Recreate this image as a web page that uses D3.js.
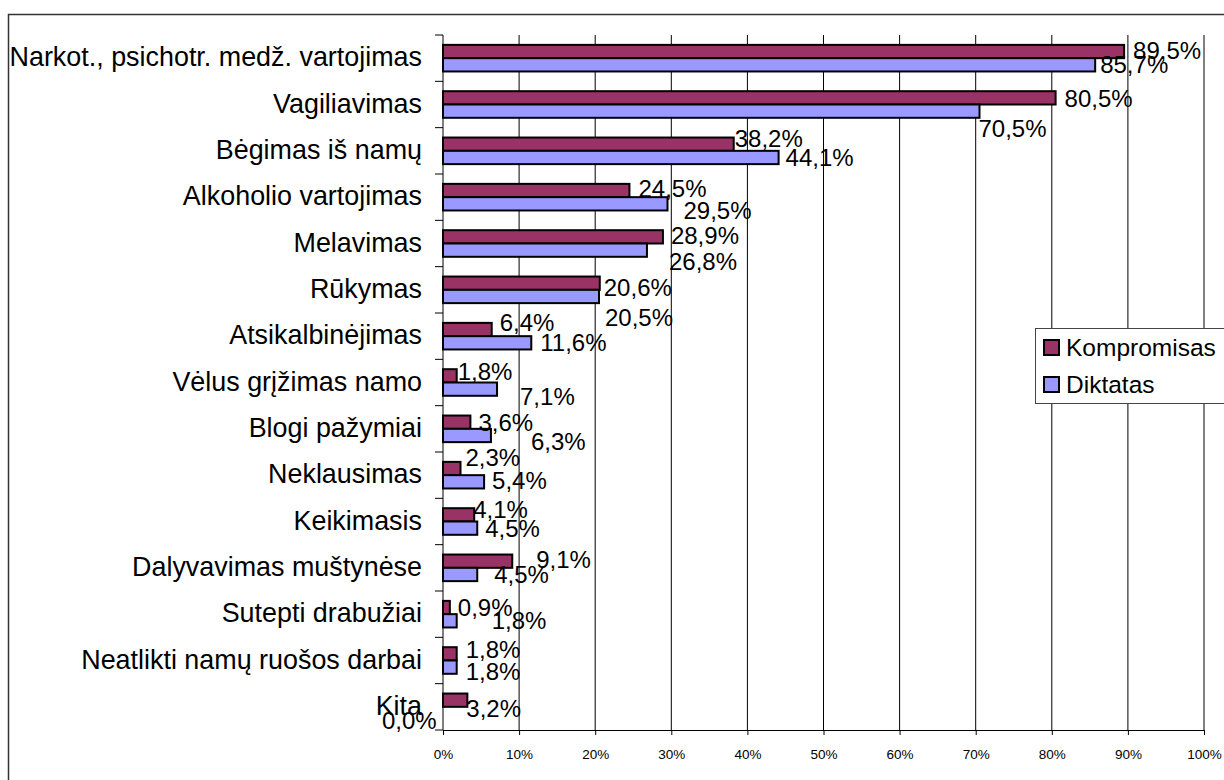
<!DOCTYPE html>
<html>
<head>
<meta charset="utf-8">
<script src="https://cdn.jsdelivr.net/npm/d3@7"></script>
<style>
  body { margin: 0; background: #fff; }
  svg { display: block; font-family: "Liberation Sans", Arial, sans-serif; }
</style>
</head>
<body>
<svg id="chart" width="1224" height="780"></svg>
<script>
const categories = [
  "Narkot., psichotr. medž. vartojimas",
  "Vagiliavimas",
  "Bėgimas iš namų",
  "Alkoholio vartojimas",
  "Melavimas",
  "Rūkymas",
  "Atsikalbinėjimas",
  "Vėlus grįžimas namo",
  "Blogi pažymiai",
  "Neklausimas",
  "Keikimasis",
  "Dalyvavimas muštynėse",
  "Sutepti drabužiai",
  "Neatlikti namų ruošos darbai",
  "Kita"
];
const kompromisas = [89.5, 80.5, 38.2, 24.5, 28.9, 20.6, 6.4, 1.8, 3.6, 2.3, 4.1, 9.1, 0.9, 1.8, 3.2];
const diktatas = [85.7, 70.5, 44.1, 29.5, 26.8, 20.5, 11.6, 7.1, 6.3, 5.4, 4.5, 4.5, 1.8, 1.8, 0.0];
const xTicks = [0, 10, 20, 30, 40, 50, 60, 70, 80, 90, 100];

// hand-placed data label offsets (dx from bar end to text left, dy from bar centre)
const nudgeK = [[9,-1],[9,1],[1,-6],[9,-2],[8,-1],[4,4],[8,-7],[1,-4],[8,0],[5,-11],[-1,-5],[24,-2],[8,0],[9,-4],[-1,8]];
const nudgeD = [[5,0],[-1,17],[7,0],[16,7],[22,11],[6,21],[9,0],[23,7],[40,6],[8,-1],[8,0],[17,0],[35,0],[9,4],[-61,7]];

const series = [
  { name: "Kompromisas", values: kompromisas, color: "#993366", nudge: nudgeK },
  { name: "Diktatas", values: diktatas, color: "#9999FF", nudge: nudgeD }
];

const svg = d3.select("#chart");
const plot = { left: 443, right: 1204, top: 35, bottom: 730 };
const labelSize = 24;
const catSize = 26.9;

const x = d3.scaleLinear().domain([0, 100]).range([plot.left, plot.right]);
const y = d3.scaleBand().domain(categories).range([plot.top, plot.bottom]).padding(0);
const sub = d3.scaleBand().domain(series.map(s => s.name)).range([0, y.step()])
  .paddingInner(0).paddingOuter(0.742);

const fmt = v => v.toFixed(1).replace(".", ",") + "%";

// outer chart border
svg.append("rect")
  .attr("x", 8.5).attr("y", 14.5)
  .attr("width", 1240).attr("height", 800)
  .attr("fill", "#fff").attr("stroke", "#333").attr("stroke-width", 1.5);

// gridlines
svg.append("g")
  .selectAll("line")
  .data(xTicks.slice(1))
  .join("line")
  .attr("x1", d => x(d)).attr("x2", d => x(d))
  .attr("y1", plot.top).attr("y2", plot.bottom)
  .attr("stroke", "#000").attr("stroke-width", 1);

// bars
series.forEach(s => {
  svg.append("g")
    .selectAll("rect")
    .data(categories.map((c, i) => ({ c, v: s.values[i] })))
    .join("rect")
    .attr("x", x(0))
    .attr("y", d => y(d.c) + sub(s.name))
    .attr("width", d => x(d.v) - x(0))
    .attr("height", sub.bandwidth())
    .attr("fill", s.color)
    .attr("stroke", "#000")
    .attr("stroke-width", 2)
    .attr("display", d => d.v > 0 ? null : "none");
});

// x axis
const xAxis = svg.append("g")
  .attr("transform", `translate(0,${plot.bottom})`)
  .call(d3.axisBottom(x).tickValues(xTicks).tickSize(5).tickFormat(d => d + "%"));
xAxis.select(".domain").attr("stroke", "#000").attr("d", `M${plot.left},0.5H${plot.right}`);
xAxis.selectAll(".tick line").attr("stroke", "#000");
xAxis.selectAll(".tick text")
  .attr("font-family", "Liberation Sans, Arial, sans-serif")
  .attr("font-size", 13.5).attr("fill", "#000").attr("y", 19).attr("dy", "0.71em");

// y axis line + band ticks
svg.append("line")
  .attr("x1", plot.left).attr("x2", plot.left)
  .attr("y1", plot.top).attr("y2", plot.bottom)
  .attr("stroke", "#000");
svg.append("g")
  .selectAll("line")
  .data(d3.range(categories.length + 1))
  .join("line")
  .attr("x1", plot.left - 8).attr("x2", plot.left)
  .attr("y1", i => plot.top + i * y.step())
  .attr("y2", i => plot.top + i * y.step())
  .attr("stroke", "#000");

// category labels
svg.append("g")
  .selectAll("text")
  .data(categories)
  .join("text")
  .attr("x", 422)
  .attr("y", d => y(d) + y.bandwidth() / 2 + 8)
  .attr("text-anchor", "end")
  .attr("font-size", catSize)
  .attr("fill", "#000")
  .text(d => d);

// data labels
series.forEach(s => {
  svg.append("g")
    .selectAll("text")
    .data(categories.map((c, i) => ({ c, v: s.values[i], n: s.nudge[i] })))
    .join("text")
    .attr("x", d => x(d.v) + d.n[0])
    .attr("y", d => y(d.c) + sub(s.name) + sub.bandwidth() / 2 + d.n[1] + labelSize * 0.358)
    .attr("font-size", labelSize)
    .attr("fill", "#000")
    .text(d => fmt(d.v));
});

// legend
const legend = svg.append("g").attr("transform", "translate(1035,328)");
legend.append("rect")
  .attr("x", 0.5).attr("y", 0.5).attr("width", 220).attr("height", 75)
  .attr("fill", "#fff").attr("stroke", "#444").attr("stroke-width", 1);
series.forEach((s, i) => {
  const row = legend.append("g").attr("transform", `translate(9,${12 + i * 37})`);
  row.append("rect")
    .attr("x", 0).attr("y", 0).attr("width", 15).attr("height", 15)
    .attr("fill", s.color).attr("stroke", "#000").attr("stroke-width", 2);
  row.append("text")
    .attr("x", 22).attr("y", 16)
    .attr("font-size", 24.5).attr("fill", "#000")
    .text(s.name);
});
</script>
</body>
</html>
